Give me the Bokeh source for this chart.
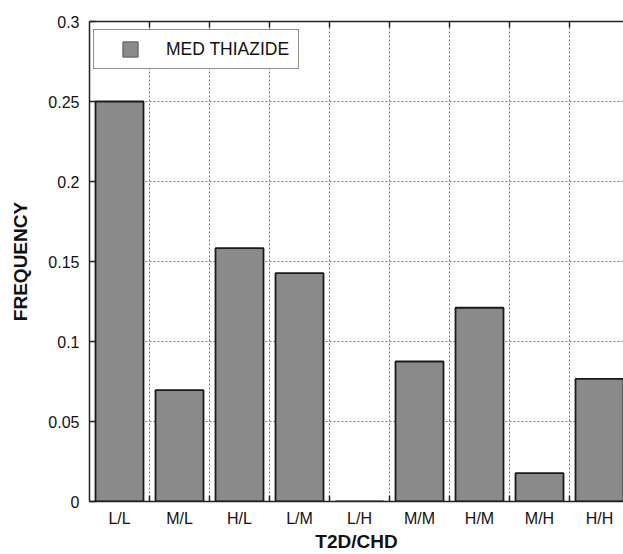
from bokeh.plotting import figure
from bokeh.models import Range1d, FixedTicker, LinearAxis, Legend, LegendItem
from bokeh.embed import file_html
from bokeh.resources import INLINE

categories = ["L/L", "M/L", "H/L", "L/M", "L/H", "M/M", "H/M", "M/H", "H/H"]
frequency = [0.25, 0.0696, 0.1583, 0.1427, 0.0, 0.0875, 0.1211, 0.0177, 0.0767]
y_ticks = [0, 0.05, 0.1, 0.15, 0.2, 0.25, 0.3]
y_tick_labels = ["0", "0.05", "0.1", "0.15", "0.2", "0.25", "0.3"]
series_name = "MED THIAZIDE"

FONT = "Liberation Sans"
BAR_FILL = "#8a8a8a"
xs = list(range(len(categories)))
boundaries = [i + 0.5 for i in range(len(categories) - 1)]

p = figure(width=623, height=554, output_backend="svg", toolbar_location=None,
           x_range=Range1d(-0.5, len(categories) - 0.6), y_range=Range1d(0, 0.3),
           min_border_left=89, min_border_right=0, min_border_top=21, min_border_bottom=51)
p.outline_line_color = None
p.background_fill_color = "white"
p.border_fill_color = "white"

r = p.vbar(x=xs, top=frequency, width=0.8, bottom=0,
           fill_color=BAR_FILL, line_color="#1a1a1a", line_width=1.8)
# square legend swatch proxy (zero size on the plot itself)
sw = p.scatter(x=xs, y=frequency, marker="square", size=0,
               fill_color=BAR_FILL, line_color="#555555", line_width=1)

# x axis
xa = p.xaxis[0]
xa.ticker = FixedTicker(ticks=xs, minor_ticks=boundaries)
xa.major_label_overrides = {i: c for i, c in zip(xs, categories)}
xa.major_tick_in = 0
xa.major_tick_out = 0
xa.minor_tick_in = 6
xa.minor_tick_out = 0
xa.minor_tick_line_color = "#222222"
xa.minor_tick_line_width = 1.5
xa.axis_line_color = "#222222"
xa.axis_line_width = 1.5
xa.major_label_standoff = 8
xa.major_label_text_font = FONT
xa.major_label_text_font_size = "16px"
xa.major_label_text_color = "#111111"
xa.axis_label = "T2D/CHD"
xa.axis_label_text_font = FONT
xa.axis_label_text_font_size = "19px"
xa.axis_label_text_font_style = "bold"
xa.axis_label_text_color = "#111111"
xa.axis_label_text_line_height = 0.7
xa.axis_label_standoff = 1

# y axis
ya = p.yaxis[0]
ya.ticker = FixedTicker(ticks=y_ticks, minor_ticks=[])
ya.major_label_overrides = {t: s for t, s in zip(y_ticks, y_tick_labels)}
ya.major_tick_in = 6
ya.major_tick_out = 0
ya.major_tick_line_color = "#222222"
ya.major_tick_line_width = 1.5
ya.axis_line_color = "#222222"
ya.axis_line_width = 1.5
ya.major_label_standoff = 10
ya.major_label_text_font = FONT
ya.major_label_text_font_size = "16px"
ya.major_label_text_color = "#111111"
ya.axis_label = "FREQUENCY"
ya.axis_label_text_font = FONT
ya.axis_label_text_font_size = "19px"
ya.axis_label_text_font_style = "bold"
ya.axis_label_text_color = "#111111"
ya.axis_label_standoff = 14

# top axis with tick marks only
ta = LinearAxis(ticker=FixedTicker(ticks=[], minor_ticks=boundaries))
ta.minor_tick_in = 6
ta.minor_tick_out = 0
ta.minor_tick_line_color = "#222222"
ta.minor_tick_line_width = 1.5
ta.axis_line_color = "#222222"
ta.axis_line_width = 1.5
ta.major_label_standoff = 0
p.add_layout(ta, "above")

# grids
p.xgrid.ticker = FixedTicker(ticks=boundaries)
p.ygrid.ticker = FixedTicker(ticks=y_ticks)
for g in (p.xgrid[0], p.ygrid[0]):
    g.grid_line_color = "#777777"
    g.grid_line_dash = "2 2"
    g.grid_line_width = 1

legend = Legend(items=[LegendItem(label=series_name, renderers=[sw])],
                location=(4, 432), padding=0, spacing=0, margin=0,
                glyph_width=72, glyph_height=38, label_height=38, label_width=132,
                label_standoff=0, label_text_font=FONT, label_text_font_size="17.5px",
                label_text_color="#111111",
                border_line_color="#222222", border_line_width=1.5,
                background_fill_color="white", background_fill_alpha=1.0)
p.add_layout(legend, "center")

open("out.html", "w").write(file_html(p, INLINE))
